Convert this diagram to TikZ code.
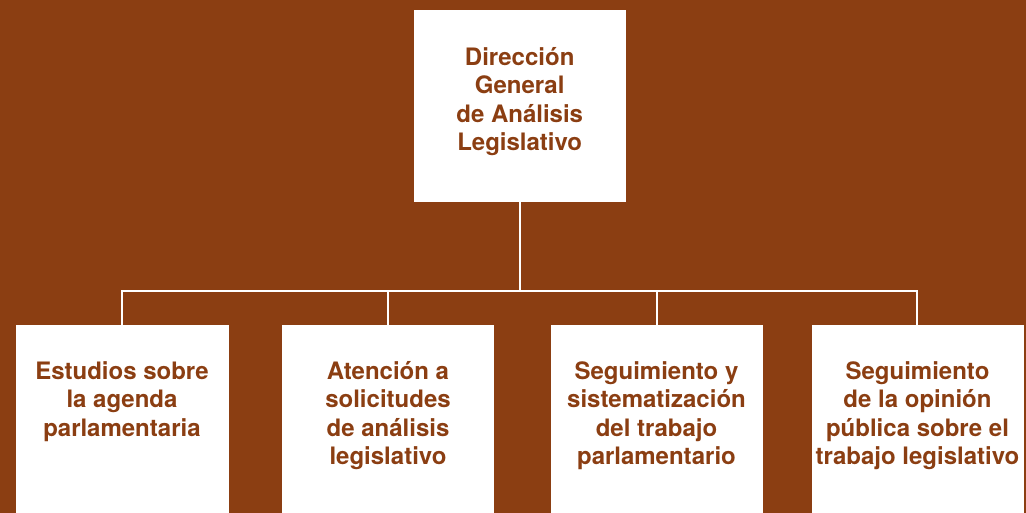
\documentclass[tikz,border=0pt]{standalone}
\usepackage{fontspec}
\setmainfont{TeX Gyre Heros}
\definecolor{brown1}{RGB}{139,62,18}
\newcommand{\fstrut}{\rule{0pt}{22pt}}
\tikzset{
  box/.style={fill=white, draw=none, minimum width=212.5pt, minimum height=192pt, inner sep=0pt, anchor=north west},
  lowbox/.style={box, minimum height=200pt},
  label/.style={text=brown1, font=\fontsize{24}{28.5}\selectfont\bfseries, align=center, inner sep=0pt, anchor=north},
  conn/.style={draw=white, line width=2pt}
}
\begin{document}
\begin{tikzpicture}[x=1pt,y=-1pt]
\fill[brown1] (0,0) rectangle (1026,513);
\useasboundingbox (0,0) rectangle (1026,513);
\begin{scope}
\clip (0,0) rectangle (1026,513);
\node[box] (top) at (413.3,10) {};
\node[lowbox] (b1) at (16,324.5) {};
\node[lowbox] (b2) at (281.7,324.5) {};
\node[lowbox] (b3) at (550.3,324.5) {};
\node[lowbox] (b4) at (811.7,324.5) {};
\end{scope}
\coordinate (bus) at (519.7,291);
\coordinate (b1top) at (122,324.5);
\coordinate (b2top) at (388.2,324.5);
\coordinate (b3top) at (656.6,324.5);
\coordinate (b4top) at (917,324.5);
\draw[conn] (b1top) |- (bus) -| (b4top);
\draw[conn] (top.south) -- (top.south |- bus);
\draw[conn] (b2top) -- (b2top |- bus);
\draw[conn] (b3top) -- (b3top |- bus);
\node[label] (t0) at (519.7,43) {\fstrut Dirección\\General\\de Análisis\\Legislativo};
\node[label] (t1) at (122,357) {\fstrut Estudios sobre\\la agenda\\parlamentaria};
\node[label] (t2) at (388,357) {\fstrut Atención a\\solicitudes\\de análisis\\legislativo};
\node[label] (t3) at (656.5,357) {\fstrut Seguimiento y\\sistematización\\del trabajo\\parlamentario};
\node[label] (t4) at (917.5,357) {\fstrut Seguimiento\\de la opinión\\pública sobre el\\trabajo legislativo};
\end{tikzpicture}
\end{document}
